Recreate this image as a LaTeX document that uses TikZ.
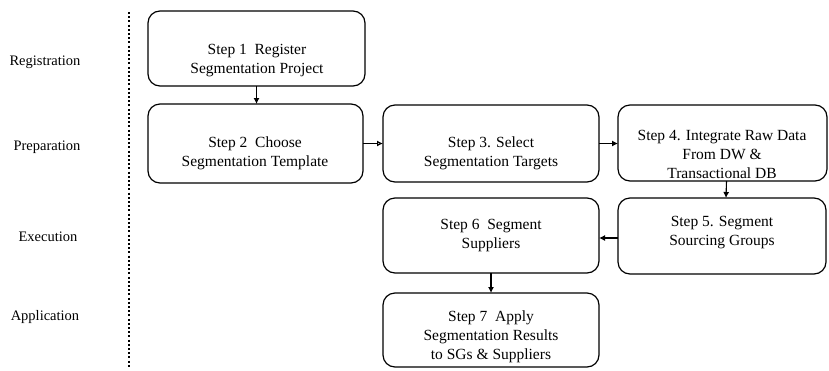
\documentclass[tikz,border=0pt]{standalone}
\usepackage{fontspec}
\setmainfont{Liberation Serif}
\usetikzlibrary{arrows.meta,calc}
\begin{document}
\begin{tikzpicture}[x=1pt,y=-1pt,
  stepbox/.style={draw, line width=1.2pt, rounded corners=12pt, inner sep=0pt, outer sep=0pt},
  steptext/.style={align=center, font=\fontsize{15.5}{19}\selectfont, inner sep=0pt},
  phase/.style={font=\fontsize{14.5}{17}\selectfont, inner sep=0pt},
  conn/.style={line width=1.1pt, -{Latex[length=6pt,width=6pt]}},
  connopen/.style={line width=1.1pt, -{Latex[open,length=6pt,width=6pt]}},
  divider/.style={line width=1.3pt, dash pattern=on 2pt off 2.2pt}]
\useasboundingbox (0,0) rectangle (829,370);

% phase labels
\node[phase] (lreg) at (45,62) {Registration};
\node[phase] (lprep) at (47,147) {Preparation};
\node[phase] (lexec) at (48,237) {Execution};
\node[phase] (lapp) at (45,317) {Application};

% divider
\coordinate (dtop) at (129,12);
\coordinate (dbot) at (129,367);
\draw[divider] (dtop) -- (dbot);

% boxes
\node[stepbox, minimum width=217pt, minimum height=75pt] (s1) at (256.5,48.5) {};
\node[stepbox, minimum width=215pt, minimum height=79pt] (s2) at (255.5,143.5) {};
\node[stepbox, minimum width=216pt, minimum height=77pt] (s3) at (491,143.5) {};
\node[stepbox, minimum width=209pt, minimum height=76pt] (s4) at (722.5,143) {};
\node[stepbox, minimum width=208pt, minimum height=76pt] (s5) at (722,236) {};
\node[stepbox, minimum width=216pt, minimum height=75pt] (s6) at (491,235.5) {};
\node[stepbox, minimum width=216pt, minimum height=74pt] (s7) at (491,330) {};

% texts
\node[steptext] (t1) at (257,61) {Step 1\ \ Register\\Segmentation Project};
\node[steptext] (t2) at (255,153) {Step 2\ \ Choose\\Segmentation Template};
\node[steptext] (t3) at (491,153) {Step 3. Select\\Segmentation Targets};
\node[steptext] (t4) at (722,154) {Step 4. Integrate Raw Data\\From DW \&\\Transactional DB};
\node[steptext] (t5) at (722,233) {Step 5. Segment\\Sourcing Groups};
\node[steptext] (t6) at (491,236) {Step 6\ \ Segment\\Suppliers};
\node[steptext] (t7) at (491,337) {Step 7\ \ Apply\\Segmentation Results\\to SGs \& Suppliers};

% connectors
\draw[conn] (s1.south) -- (s1.south |- s2.north);
\draw[connopen] (s2.east) -- (s2.east -| s3.west);
\draw[conn] (s3.east) -- (s3.east -| s4.west);
\draw[conn] ($(s4.south)+(4,0)$) -- ($(s5.north)+(4,0)$);
\draw[conn] ($(s5.west)+(0,2)$) -- ($(s6.east)+(0,2.5)$);
\draw[conn] (s6.south) -- (s6.south |- s7.north);
\end{tikzpicture}
\end{document}
